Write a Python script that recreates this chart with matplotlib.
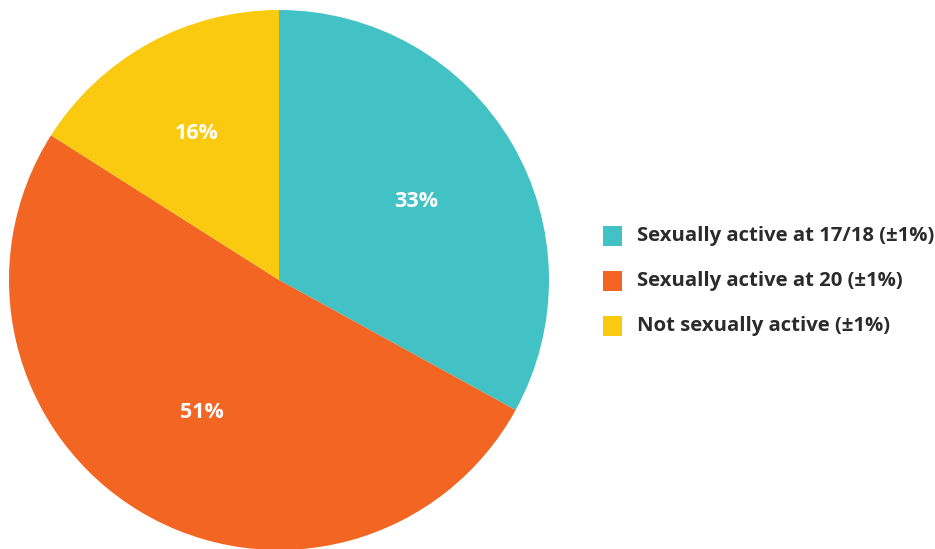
import numpy as np
import matplotlib as mpl
mpl.use('Agg')
import matplotlib.pyplot as plt
from matplotlib.patches import Rectangle

labels = ['Sexually active at 17/18 (±1%)', 'Sexually active at 20 (±1%)', 'Not sexually active (±1%)']
values = [33, 51, 16]
colors = ['#42C2C4', '#F26522', '#F9CA0F']

plt.rcParams['font.family'] = ['Open Sans', 'DejaVu Sans']

fig = plt.figure(figsize=(9.35, 5.49), dpi=100)
W, H = 935, 549
cx, cy, r = 279, 280, 270
ax = fig.add_axes([(cx - r) / W, (H - cy - r) / H, 2 * r / W, 2 * r / H])
wedges, _ = ax.pie(values, colors=colors, startangle=90, counterclock=False, radius=1,
                   wedgeprops=dict(linewidth=0))
ax.set_xlim(-1, 1)
ax.set_ylim(-1, 1)
ax.axis('off')

# percentage labels, distance from centre tuned per slice
dist = [0.59, 0.56, 0.63]
for w, v, d in zip(wedges, values, dist):
    ang = np.deg2rad((w.theta1 + w.theta2) / 2)
    ax.text(d * np.cos(ang), d * np.sin(ang), f'{v}%', ha='center', va='center_baseline',
            color='white', fontsize=15.5, fontweight='bold')

# legend drawn by hand
for i, (lab, c) in enumerate(zip(labels, colors)):
    y = 236 + 45 * i
    fig.patches.append(Rectangle((603 / W, 1 - (y + 10) / H), 19 / W, 20 / H,
                                 transform=fig.transFigure, facecolor=c, edgecolor='none'))
    fig.text(637 / W, 1 - y / H, lab, ha='left', va='center', fontsize=14.6,
             fontweight='bold', color='#2b2b2b')

fig.savefig('out.png', dpi=100)
plt.close()
